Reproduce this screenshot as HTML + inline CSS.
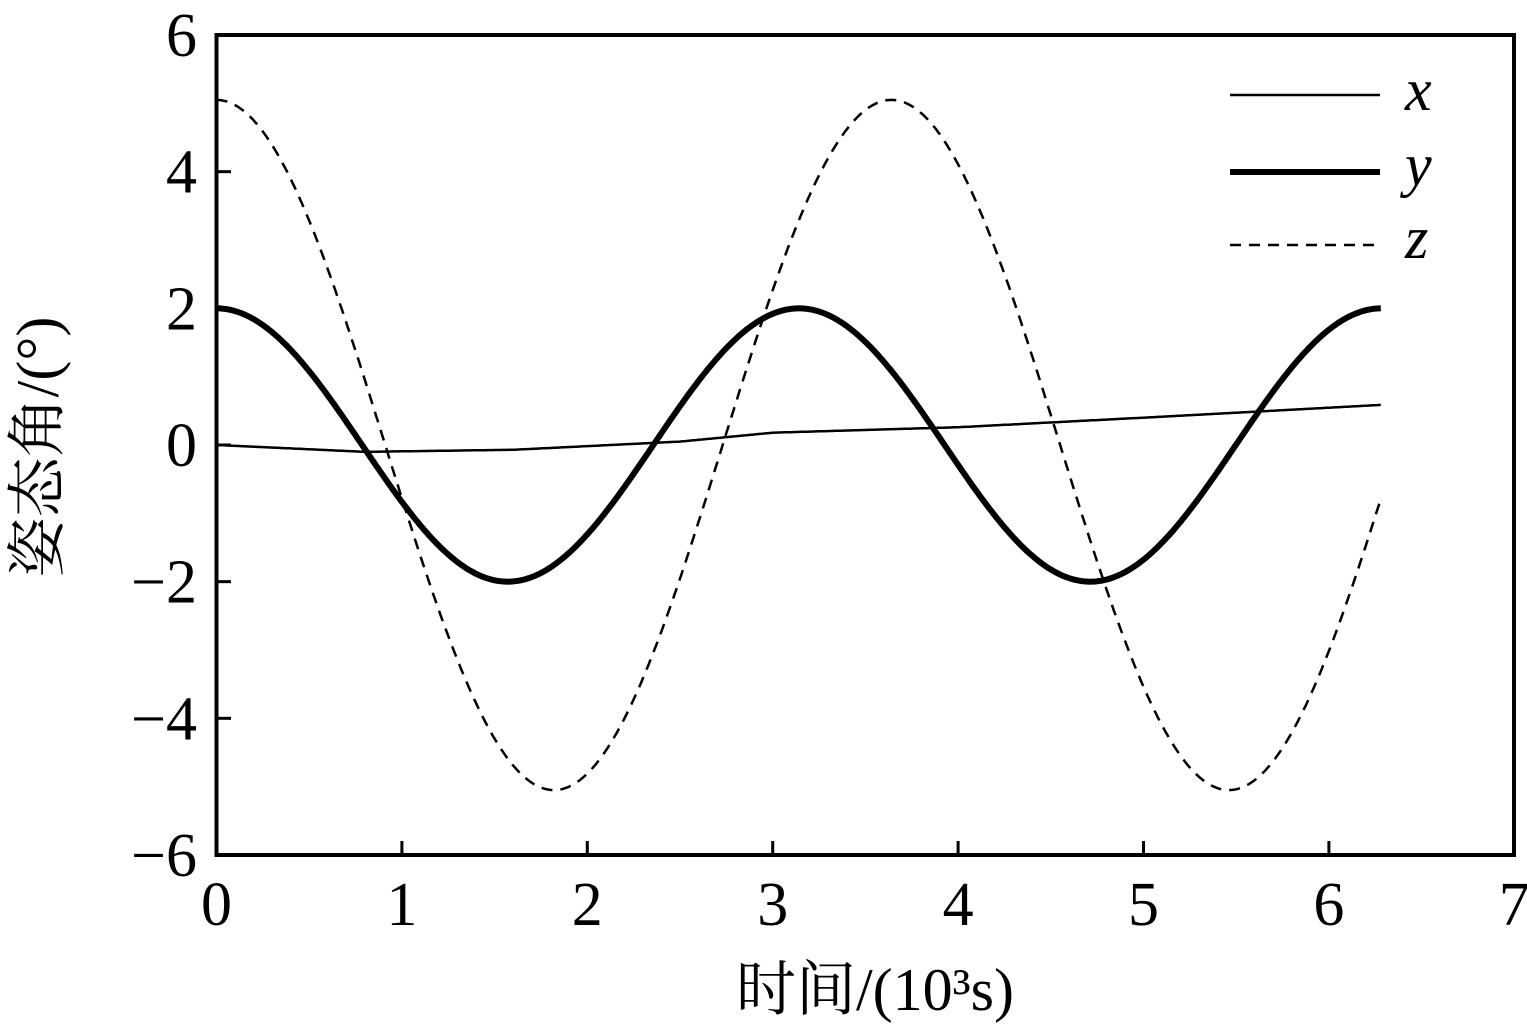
<!DOCTYPE html><html><head><meta charset="utf-8"><style>
html,body{margin:0;padding:0;background:#fff;}
svg{display:block}
text{font-family:"Liberation Serif","Noto Serif CJK SC",serif;fill:#000}
</style></head><body>
<svg id="s" width="1527" height="1027" viewBox="0 0 1527 1027">
<rect x="216.5" y="35" width="1297.5" height="820" fill="none" stroke="#000" stroke-width="4"/>
<g id="ticks" stroke="#000" stroke-width="3"></g>
<g font-size="62" text-anchor="end" id="yl"></g>
<g font-size="62" text-anchor="middle" id="xl"></g>
<text x="875" y="1010" font-size="60" text-anchor="middle">时间/(10³s)</text>
<text transform="translate(58,447) rotate(-90)" font-size="60" text-anchor="middle">姿态角/(°)</text>
<path id="px" fill="none" stroke="#000" stroke-width="2.5"/>
<path id="py" fill="none" stroke="#000" stroke-width="6"/>
<path id="pz" fill="none" stroke="#000" stroke-width="2.5" stroke-dasharray="11,8"/>
<line x1="1230" y1="95" x2="1380" y2="95" stroke="#000" stroke-width="2.5"/>
<line x1="1230" y1="172" x2="1380" y2="172" stroke="#000" stroke-width="6"/>
<line x1="1230" y1="245" x2="1380" y2="245" stroke="#000" stroke-width="2.5" stroke-dasharray="11,8"/>
<text x="1405" y="110" font-size="60" font-style="italic">x</text>
<text x="1405" y="185" font-size="60" font-style="italic">y</text>
<text x="1405" y="258" font-size="60" font-style="italic">z</text>
</svg>
<script>
var X0=216.5,U=185.4,Y0=445,V=68.33;
function X(t){return X0+t*U}function Y(v){return Y0-v*V}
var tk='',yl='',xl='';
for(var i=-6;i<=6;i+=2){var y=Y(i);tk+='<line x1="216.5" y1="'+y+'" x2="231" y2="'+y+'"/>';
yl+='<text x="197" y="'+(y+21)+'">'+(i<0?'\u2212'+(-i):i)+'</text>';}
for(var j=0;j<=7;j++){var x=X(j);tk+='<line x1="'+x+'" y1="855" x2="'+x+'" y2="841"/>';
xl+='<text x="'+x+'" y="925">'+j+'</text>';}
document.getElementById('ticks').innerHTML=tk;
document.getElementById('yl').innerHTML=yl;
document.getElementById('xl').innerHTML=xl;
function P(f){var d='';for(var t=0;t<=6.283;t+=0.01){d+=(t?'L':'M')+X(t).toFixed(1)+','+Y(f(t)).toFixed(1);}return d;}
var pts=[[0,0],[0.8,-0.1],[1.6,-0.07],[2.5,0.05],[3,0.18],[4,0.26],[5,0.4],[6.3,0.59]];
function xf(t){for(var k=1;k<pts.length;k++){if(t<=pts[k][0]){var a=pts[k-1],b=pts[k];return a[1]+(b[1]-a[1])*(t-a[0])/(b[0]-a[0]);}}return 0.59;}
document.getElementById('px').setAttribute('d',P(xf));
document.getElementById('py').setAttribute('d',P(function(t){return 2*Math.cos(2*t)}));
document.getElementById('pz').setAttribute('d',P(function(t){return 5.05*Math.cos(1.726*t)}));
</script>
</body></html>
